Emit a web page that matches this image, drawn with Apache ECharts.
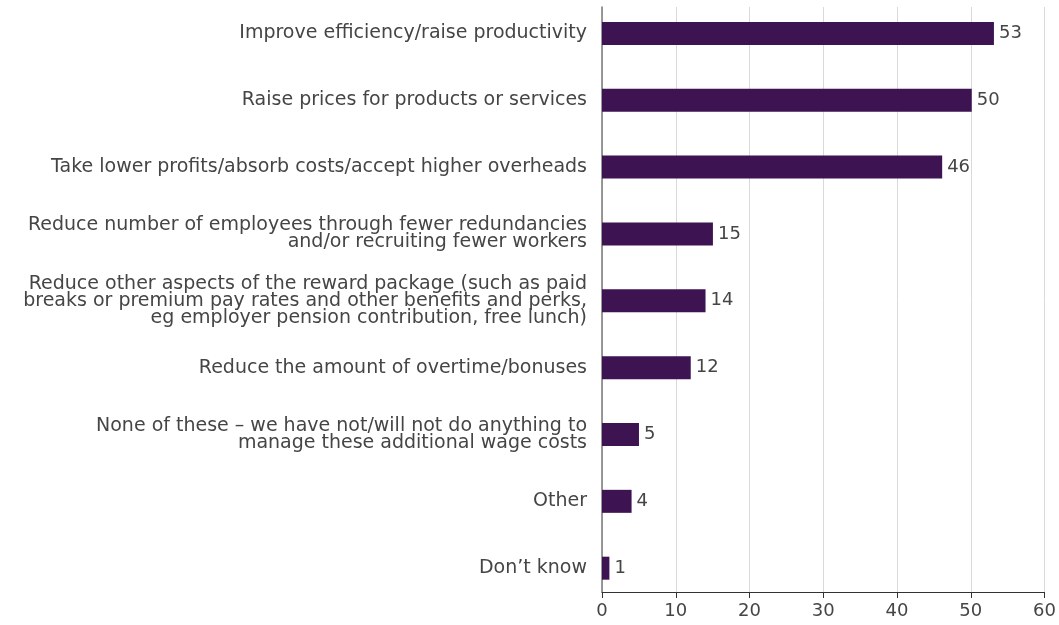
<!DOCTYPE html>
<html>
<head>
<meta charset="utf-8">
<style>
  html, body { margin: 0; padding: 0; background: #ffffff; }
  #chart { width: 1059px; height: 625px; }
</style>
<script src="https://cdn.jsdelivr.net/npm/echarts@6/dist/echarts.min.js"></script>
</head>
<body>
<div id="chart"></div>
<script>
// Responses, top to bottom
const categories = [
  'Improve efficiency/raise productivity',
  'Raise prices for products or services',
  'Take lower profits/absorb costs/accept higher overheads',
  'Reduce number of employees through fewer redundancies\nand/or recruiting fewer workers',
  'Reduce other aspects of the reward package (such as paid\nbreaks or premium pay rates and other benefits and perks,\neg employer pension contribution, free lunch)',
  'Reduce the amount of overtime/bonuses',
  'None of these \u2013 we have not/will not do anything to\nmanage these additional wage costs',
  'Other',
  'Don\u2019t know'
];
// Share of respondents (%)
const values = [53, 50, 46, 15, 14, 12, 5, 4, 1];
// Value axis ticks
const xMin = 0;
const xMax = 60;
const xStep = 10;

const FONT = '"DejaVu Sans", sans-serif';
const TEXT = '#454545';
const BAR = '#3e1351';

const chart = echarts.init(document.getElementById('chart'), null, { renderer: 'canvas' });

chart.setOption({
  animation: false,
  backgroundColor: '#ffffff',
  grid: [
    // bars and category labels
    { left: 602, right: 13.3, top: -3.6, bottom: 23.4, containLabel: false },
    // value axis, gridlines and the vertical baseline
    { left: 602, right: 13.3, top: 7, bottom: 33, containLabel: false }
  ],
  xAxis: [
    { gridIndex: 0, type: 'value', min: xMin, max: xMax, interval: xStep, show: false },
    {
      gridIndex: 1, type: 'value', min: xMin, max: xMax, interval: xStep,
      axisLine: { show: true, lineStyle: { color: '#333333', width: 1 } },
      axisTick: { show: true, length: 6, lineStyle: { color: '#333333' } },
      axisLabel: { color: TEXT, fontFamily: FONT, fontSize: 18, margin: 10 },
      splitLine: { show: true, lineStyle: { color: '#d9d9d9', width: 1 } }
    }
  ],
  yAxis: [
    {
      gridIndex: 0, type: 'category', data: categories, inverse: true,
      axisLine: { show: false }, axisTick: { show: false },
      splitLine: { show: false },
      axisLabel: {
        color: TEXT, fontFamily: FONT, fontSize: 19, lineHeight: 16.8,
        margin: 15, align: 'right', interval: 0
      }
    },
    {
      gridIndex: 1, type: 'value', min: 0, max: 1,
      axisLine: { show: true, lineStyle: { color: '#7a7a7a', width: 1.5 } },
      axisTick: { show: false }, axisLabel: { show: false },
      splitLine: { show: false }
    }
  ],
  series: [
    {
      type: 'bar',
      xAxisIndex: 0, yAxisIndex: 0,
      data: values,
      barWidth: 23,
      itemStyle: { color: BAR },
      label: {
        show: true, position: 'right', distance: 5,
        color: TEXT, fontFamily: FONT, fontSize: 18
      }
    }
  ]
});
</script>
</body>
</html>
